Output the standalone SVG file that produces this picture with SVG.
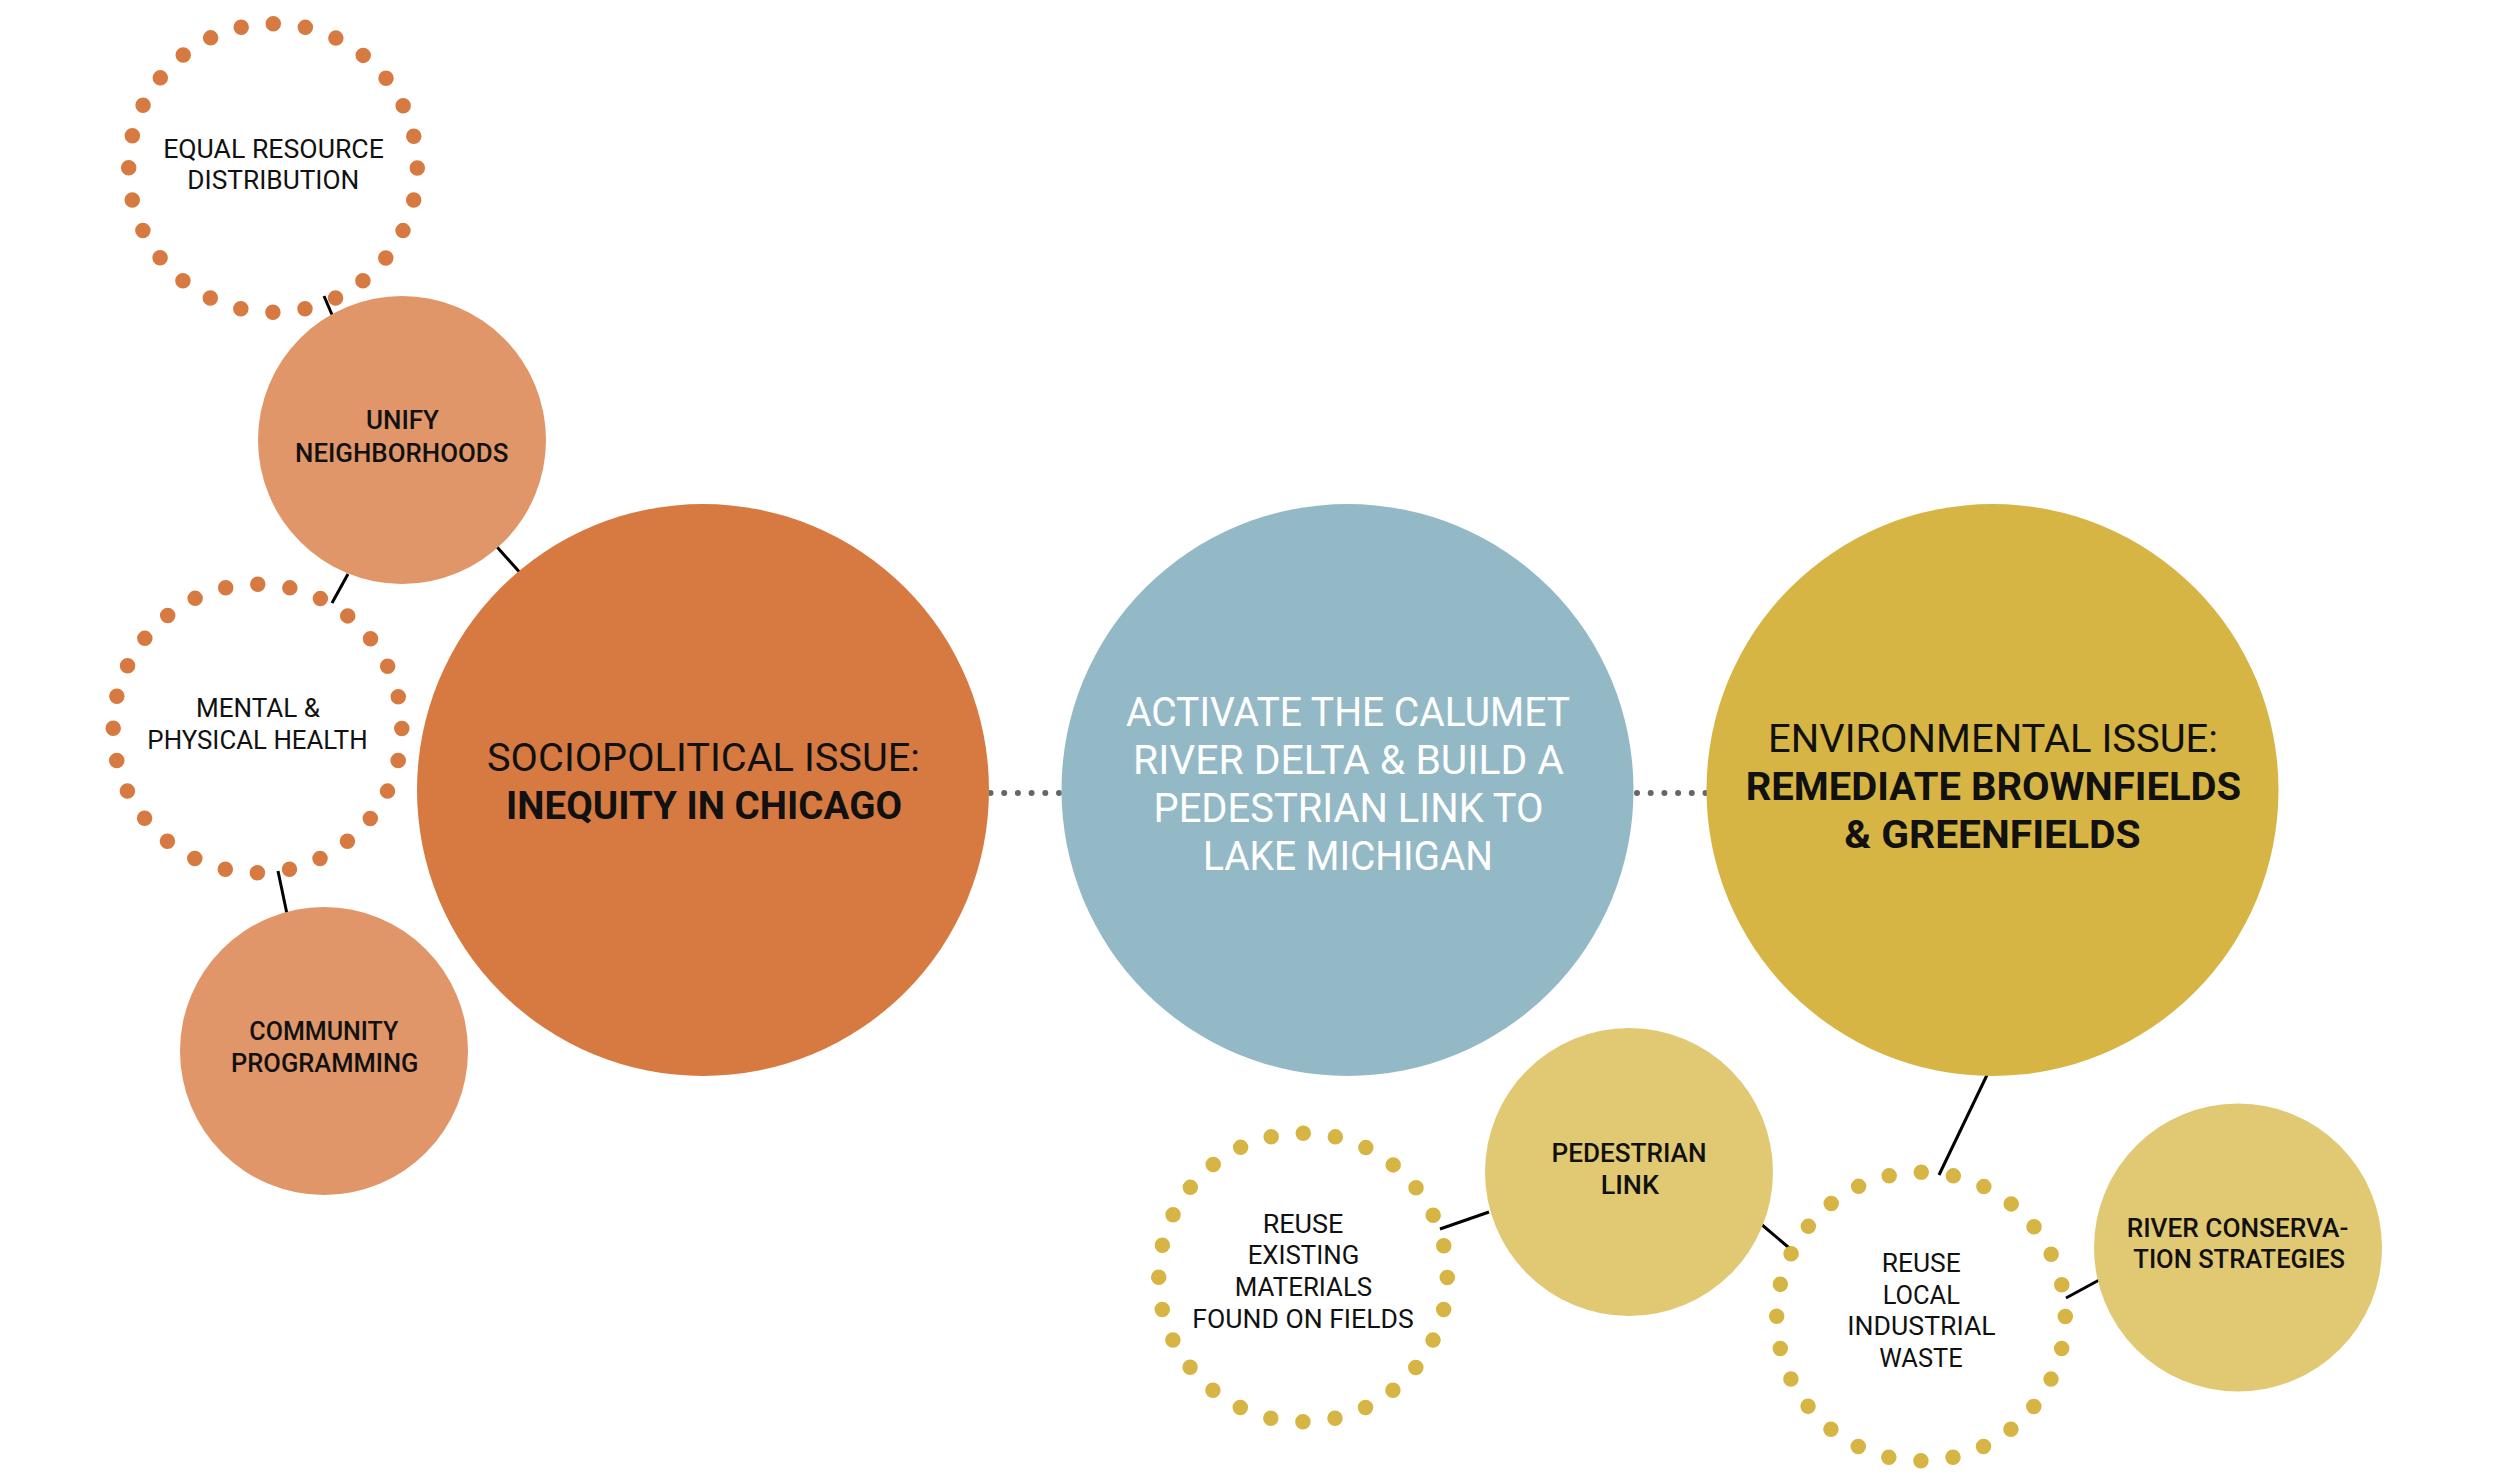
<svg xmlns="http://www.w3.org/2000/svg" width="2500" height="1484" viewBox="0 0 2500 1484">
<style>
.t{font-family:Roboto,"Liberation Sans",sans-serif;font-size:25.5px;fill:#111;text-anchor:middle;}
.m{font-weight:500;}
.big{font-size:39px;}
.bl{font-size:40px;fill:#fff;}
.b{font-weight:700;}
.ro{fill:none;stroke:#D77A41;stroke-width:15.5;stroke-linecap:round;stroke-dasharray:0 32.381;}
.ry{fill:none;stroke:#D6B545;stroke-width:15.5;stroke-linecap:round;stroke-dasharray:0 32.381;}
.lk{stroke:#000;stroke-width:3;fill:none;}
.gd{stroke:#666;stroke-width:6;stroke-linecap:round;stroke-dasharray:0 13.7;fill:none;}
</style>
<rect width="2500" height="1484" fill="#fff"/>
<g id="connectors">
<line class="gd" x1="990.5" y1="793" x2="1059" y2="793"/>
<line class="gd" x1="1637" y1="793" x2="1705.5" y2="793"/>
<line class="lk" x1="324" y1="296" x2="333" y2="317"/>
<line class="lk" x1="497" y1="547" x2="523" y2="576"/>
<line class="lk" x1="348" y1="574" x2="332" y2="603"/>
<line class="lk" x1="278" y1="871" x2="287" y2="914"/>
<line class="lk" x1="1987" y1="1075" x2="1939" y2="1175"/>
<line class="lk" x1="1440" y1="1229" x2="1489" y2="1212"/>
<line class="lk" x1="1761" y1="1224" x2="1794" y2="1252"/>
<line class="lk" x1="2066" y1="1298" x2="2101" y2="1279"/>
</g>
<g id="sociopolitical">
<circle cx="703" cy="790" r="286" fill="#D77A41"/>
<text class="t big" x="703.5" y="770.5" textLength="433" lengthAdjust="spacingAndGlyphs">SOCIOPOLITICAL ISSUE:</text>
<text class="t big b" x="704" y="819" textLength="396" lengthAdjust="spacingAndGlyphs">INEQUITY IN CHICAGO</text>
</g>
<g id="activate">
<circle cx="1347.5" cy="790" r="286" fill="#94B9C6"/>
<text class="t bl" x="1348" y="726" textLength="444" lengthAdjust="spacingAndGlyphs">ACTIVATE THE CALUMET</text>
<text class="t bl" x="1348.5" y="774" textLength="431" lengthAdjust="spacingAndGlyphs">RIVER DELTA &amp; BUILD A</text>
<text class="t bl" x="1348.5" y="822" textLength="390" lengthAdjust="spacingAndGlyphs">PEDESTRIAN LINK TO</text>
<text class="t bl" x="1348" y="870" textLength="290" lengthAdjust="spacingAndGlyphs">LAKE MICHIGAN</text>
</g>
<g id="environmental">
<circle cx="1992.5" cy="790" r="286" fill="#D6B545"/>
<text class="t big" x="1993" y="752" textLength="450" lengthAdjust="spacingAndGlyphs">ENVIRONMENTAL ISSUE:</text>
<text class="t big b" x="1993.4" y="799.5" textLength="495.5" lengthAdjust="spacingAndGlyphs">REMEDIATE BROWNFIELDS</text>
<text class="t big b" x="1992.5" y="847.7" textLength="296.4" lengthAdjust="spacingAndGlyphs">&amp; GREENFIELDS</text>
</g>
<g id="equal-resource">
<circle class="ro" cx="273" cy="168" r="144.3"/>
<text class="t" x="273.5" y="158.3" textLength="220.7" lengthAdjust="spacingAndGlyphs">EQUAL RESOURCE</text>
<text class="t" x="273.3" y="189.3" textLength="172" lengthAdjust="spacingAndGlyphs">DISTRIBUTION</text>
</g>
<g id="unify">
<circle cx="402" cy="440" r="144" fill="#E09669"/>
<text class="t m" x="402.5" y="429" textLength="73" lengthAdjust="spacingAndGlyphs">UNIFY</text>
<text class="t m" x="401.7" y="461.7" textLength="213.3" lengthAdjust="spacingAndGlyphs">NEIGHBORHOODS</text>
</g>
<g id="mental-health">
<circle class="ro" cx="257.5" cy="728.5" r="144.3"/>
<text class="t" x="258" y="717.3" textLength="124" lengthAdjust="spacingAndGlyphs">MENTAL &amp;</text>
<text class="t" x="257.5" y="749.3" textLength="220.3" lengthAdjust="spacingAndGlyphs">PHYSICAL HEALTH</text>
</g>
<g id="community">
<circle cx="324" cy="1051" r="144" fill="#E09669"/>
<text class="t m" x="323.8" y="1040" textLength="149" lengthAdjust="spacingAndGlyphs">COMMUNITY</text>
<text class="t m" x="324.7" y="1071.7" textLength="187.3" lengthAdjust="spacingAndGlyphs">PROGRAMMING</text>
</g>
<g id="pedestrian-link">
<circle cx="1629" cy="1172" r="144" fill="#E1C974"/>
<text class="t m" x="1629" y="1162.3" textLength="155" lengthAdjust="spacingAndGlyphs">PEDESTRIAN</text>
<text class="t m" x="1629.8" y="1194.3" textLength="58.3" lengthAdjust="spacingAndGlyphs">LINK</text>
</g>
<g id="reuse-existing">
<circle class="ry" cx="1303" cy="1277.5" r="144.3"/>
<text class="t" x="1303" y="1232.7" textLength="80.7" lengthAdjust="spacingAndGlyphs">REUSE</text>
<text class="t" x="1303.5" y="1264.3" textLength="111.7" lengthAdjust="spacingAndGlyphs">EXISTING</text>
<text class="t" x="1303.5" y="1296" textLength="137.3" lengthAdjust="spacingAndGlyphs">MATERIALS</text>
<text class="t" x="1303" y="1328.3" textLength="221.3" lengthAdjust="spacingAndGlyphs">FOUND ON FIELDS</text>
</g>
<g id="reuse-local">
<circle class="ry" cx="1921" cy="1316.5" r="144.3"/>
<text class="t" x="1921.2" y="1271.7" textLength="79" lengthAdjust="spacingAndGlyphs">REUSE</text>
<text class="t" x="1921.3" y="1304" textLength="77.3" lengthAdjust="spacingAndGlyphs">LOCAL</text>
<text class="t" x="1921.5" y="1335.3" textLength="148.3" lengthAdjust="spacingAndGlyphs">INDUSTRIAL</text>
<text class="t" x="1921" y="1367.3" textLength="83.3" lengthAdjust="spacingAndGlyphs">WASTE</text>
</g>
<g id="river-conservation">
<circle cx="2238" cy="1247.5" r="144" fill="#E1C974"/>
<text class="t m" x="2237.5" y="1236.7" textLength="221.7" lengthAdjust="spacingAndGlyphs">RIVER CONSERVA-</text>
<text class="t m" x="2239.2" y="1267.7" textLength="211.7" lengthAdjust="spacingAndGlyphs">TION STRATEGIES</text>
</g>
</svg>
